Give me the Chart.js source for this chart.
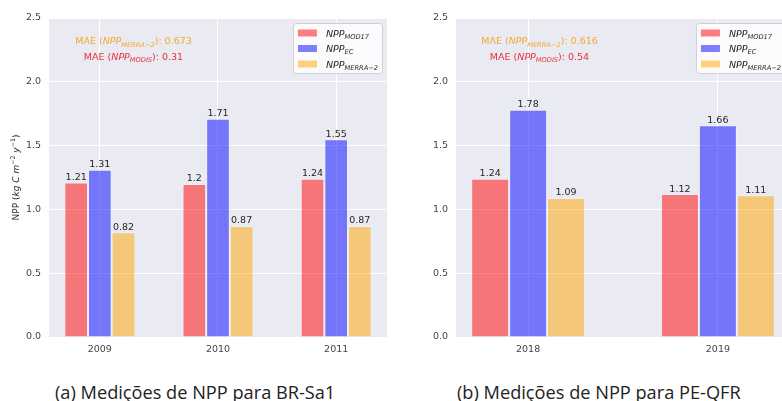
<!DOCTYPE html>
<html lang="pt">
<head>
<meta charset="UTF-8">
<title>Medições de NPP</title>
<script src="https://cdn.jsdelivr.net/npm/chart.js"></script>
<style>
    body {
        margin: 0;
        width: 782px;
        height: 401px;
        overflow: hidden;
        background: #fff;
        position: relative;
        font-family: "DejaVu Sans", sans-serif;
    }

    .painel {
        position: absolute;
        top: 0;
        width: 400px;
        height: 360px;
    }

    .legenda {
        position: absolute;
        top: 380px;
        font-family: "Open Sans", sans-serif;
        font-size: 18.2px;
        color: #222;
        white-space: nowrap;
    }
</style>
</head>
<body>
<div class="painel" style="left:0"><canvas id="graficoA" width="400" height="360"></canvas></div>
<div class="painel" style="left:400px"><canvas id="graficoB" width="400" height="360"></canvas></div>
<div class="legenda" style="left:55px">(a) Medições de NPP para BR-Sa1</div>
<div class="legenda" style="left:457px">(b) Medições de NPP para PE-QFR</div>

<script>
    // dados
    const anosA = ['2009', '2010', '2011'];
    const mod17A = [1.21, 1.2, 1.24];
    const ecA = [1.31, 1.71, 1.55];
    const merraA = [0.82, 0.87, 0.87];
    const maeMerraA = '0.673';
    const maeModisA = '0.31';

    const anosB = ['2018', '2019'];
    const mod17B = [1.24, 1.12];
    const ecB = [1.78, 1.66];
    const merraB = [1.09, 1.11];
    const maeMerraB = '0.616';
    const maeModisB = '0.54';

    const subSeries = ['MOD17', 'EC', 'MERRA\u22122'];

    // texto com itálico / subscrito / sobrescrito
    function fonteDe(p, tam) {
        const s = (p.sub || p.sup) ? tam * 0.7 : tam;
        return (p.it ? 'italic ' : '') + s + 'px "DejaVu Sans"';
    }

    function larguraRico(ctx, partes, tam) {
        let w = 0;
        partes.forEach(p => { ctx.font = fonteDe(p, tam); w += ctx.measureText(p.t).width; });
        return w;
    }

    function desenhaRico(ctx, partes, x, y, tam, cor, centro) {
        const w = larguraRico(ctx, partes, tam);
        let cx = centro ? x - w / 2 : x;
        ctx.fillStyle = cor;
        ctx.textAlign = 'left';
        ctx.textBaseline = 'alphabetic';
        partes.forEach(p => {
            ctx.font = fonteDe(p, tam);
            const dy = p.sub ? tam * 0.25 : (p.sup ? -tam * 0.42 : 0);
            ctx.fillText(p.t, cx, y + dy);
            cx += ctx.measureText(p.t).width;
        });
        return w;
    }

    const fundoPlugin = {
        id: 'fundo',
        beforeDraw(chart) {
            const a = chart.chartArea, ctx = chart.ctx;
            ctx.save();
            ctx.fillStyle = '#eaeaf2';
            ctx.fillRect(a.left, a.top, a.right - a.left, a.bottom - a.top);
            ctx.restore();
        }
    };

    const extrasPlugin = {
        id: 'extras',
        afterDatasetsDraw(chart) {
            const ctx = chart.ctx;
            ctx.save();
            ctx.font = '9.5px "DejaVu Sans"';
            ctx.fillStyle = '#262626';
            ctx.textAlign = 'center';
            ctx.textBaseline = 'alphabetic';
            chart.data.datasets.forEach((ds, i) => {
                chart.getDatasetMeta(i).data.forEach((el, j) => {
                    ctx.fillText(String(ds.data[j].y), el.x, el.y - 2.5);
                });
            });
            ctx.restore();
        },
        afterDraw(chart, args, o) {
            const a = chart.chartArea, ctx = chart.ctx;
            const h = a.bottom - a.top;
            ctx.save();

            // textos de MAE
            const cx = a.left + 0.25 * (a.right - a.left);
            desenhaRico(ctx, [{t: 'MAE ('}, {t: 'NPP', it: true}, {t: 'MERRA\u22122', it: true, sub: true}, {t: '): ' + o.maeMerra}],
                cx, a.top + 0.082 * h, 9.5, '#f5a92e', true);
            desenhaRico(ctx, [{t: 'MAE ('}, {t: 'NPP', it: true}, {t: 'MODIS', it: true, sub: true}, {t: '): ' + o.maeModis}],
                cx, a.top + 0.132 * h, 9.5, '#ec2f3a', true);

            // legenda
            const linhas = chart.data.datasets.map(ds => [{t: 'NPP', it: true}, {t: ds.sub, it: true, sub: true}]);
            let maxW = 0;
            linhas.forEach(l => { maxW = Math.max(maxW, larguraRico(ctx, l, 9.5)); });
            const bw = 33 + maxW + 4, bh = 50;
            const x0 = a.right - 5 - bw, y0 = a.top + 5;
            ctx.beginPath();
            ctx.roundRect(x0 + 0.5, y0 + 0.5, bw, bh, 3);
            ctx.fillStyle = 'rgba(255,255,255,0.8)';
            ctx.fill();
            ctx.strokeStyle = '#d0d0d0';
            ctx.lineWidth = 1;
            ctx.stroke();
            chart.data.datasets.forEach((ds, i) => {
                const cy = y0 + 10 + i * 15.5;
                ctx.fillStyle = ds.backgroundColor;
                ctx.fillRect(x0 + 5, cy - 3.5, 19, 7);
                desenhaRico(ctx, linhas[i], x0 + 33, cy + 3.5, 9.5, '#262626', false);
            });

            // título do eixo y
            if (o.yTitulo) {
                ctx.translate(15, (a.top + a.bottom) / 2);
                ctx.rotate(-Math.PI / 2);
                desenhaRico(ctx, [
                    {t: 'NPP ('}, {t: 'kg', it: true}, {t: ' '}, {t: 'C', it: true}, {t: ' '},
                    {t: 'm', it: true}, {t: '\u22122', sup: true}, {t: ' '}, {t: 'y', it: true},
                    {t: '\u22121', sup: true}, {t: ')'}
                ], 0, 3.5, 9, '#262626', true);
            }
            ctx.restore();
        }
    };

    function montaGrafico(id, anos, mod17, ec, merra, maeMerra, maeModis, cfg) {
        const pontos = arr => arr.map((v, i) => ({x: i, y: v}));
        return new Chart(document.getElementById(id), {
            type: 'bar',
            data: {
                datasets: [
                    {label: 'NPP', sub: subSeries[0], data: pontos(mod17), backgroundColor: 'rgba(255,0,0,0.5)'},
                    {label: 'NPP', sub: subSeries[1], data: pontos(ec), backgroundColor: 'rgba(0,0,255,0.5)'},
                    {label: 'NPP', sub: subSeries[2], data: pontos(merra), backgroundColor: 'rgba(255,165,0,0.5)'}
                ]
            },
            options: {
                responsive: false,
                animation: false,
                categoryPercentage: 0.6,
                barPercentage: 1,
                borderColor: 'rgba(255,255,255,0.25)',
                borderWidth: 1,
                layout: {padding: {top: 18, right: cfg.padDir, left: 0, bottom: 0}},
                plugins: {
                    legend: {display: false},
                    tooltip: {enabled: false},
                    extras: {maeMerra: maeMerra, maeModis: maeModis, yTitulo: cfg.yTitulo}
                },
                scales: {
                    x: {
                        type: 'linear',
                        min: cfg.xmin,
                        max: cfg.xmax,
                        offset: false,
                        afterBuildTicks: s => { s.ticks = anos.map((a, i) => ({value: i})); },
                        afterFit: s => { s.height = 23; },
                        ticks: {
                            callback: v => anos[v],
                            color: '#444',
                            padding: 7,
                            font: {family: 'DejaVu Sans', size: 9.5}
                        },
                        grid: {color: '#ffffff', lineWidth: 1, offset: false, drawTicks: false},
                        border: {display: false}
                    },
                    y: {
                        min: 0,
                        max: 2.5,
                        afterFit: s => { s.width = cfg.yLarg; },
                        ticks: {
                            stepSize: 0.5,
                            callback: v => v.toFixed(1),
                            color: '#444',
                            padding: 8,
                            font: {family: 'DejaVu Sans', size: 9.5}
                        },
                        grid: {color: '#ffffff', lineWidth: 1, drawTicks: false},
                        border: {display: false}
                    }
                }
            },
            plugins: [fundoPlugin, extrasPlugin]
        });
    }

    montaGrafico('graficoA', anosA, mod17A, ecA, merraA, maeMerraA, maeModisA,
        {xmin: -0.43, xmax: 2.43, yLarg: 49, padDir: 13, yTitulo: true});
    montaGrafico('graficoB', anosB, mod17B, ecB, merraB, maeMerraB, maeModisB,
        {xmin: -0.38, xmax: 1.38, yLarg: 56, padDir: 10, yTitulo: false});
</script>
</body>
</html>
